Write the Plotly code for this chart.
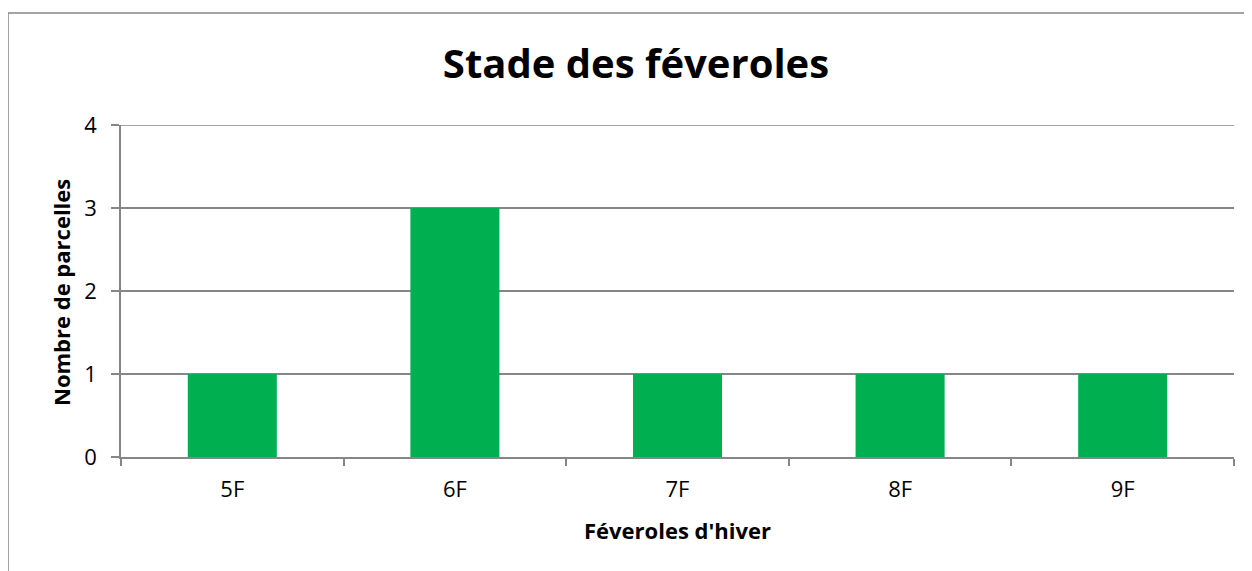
import plotly.graph_objects as go

categories = ["5F", "6F", "7F", "8F", "9F"]
values = [1, 3, 1, 1, 1]
y_ticks = [0, 1, 2, 3, 4]

# page is offset by the 8px body margin
OFF = 8
W, H = 1244, 563
L, R, T, B = 113, 18, 117, 114
pw = W - L - R
ph = H - T - B

def px(x):  # page x -> paper
    return (x - OFF - L) / pw

def py(y):  # page y -> paper
    return (H - B - (y - OFF)) / ph

FONT = "Open Sans"
GRID = "#868686"

fig = go.Figure(go.Bar(
    x=categories, y=values,
    marker=dict(color="#00B050", line=dict(width=0)),
    width=0.4,
))

fig.update_layout(
    width=W, height=H,
    margin=dict(l=L, r=R, t=T, b=B),
    paper_bgcolor="white", plot_bgcolor="white",
    showlegend=False,
    font=dict(family=FONT, color="#000000"),
    title=dict(text="<b>Stade des féveroles</b>", x=px(636), xref="paper", xanchor="center",
               y=1 - (64 - OFF) / H, yanchor="middle", font=dict(size=40, family=FONT, color="#000")),
    xaxis=dict(
        type="category", tickson="boundaries",
        ticks="outside", ticklen=7, tickcolor=GRID, tickwidth=1.5,
        showline=True, linecolor=GRID, linewidth=1.5,
        showgrid=False, tickfont=dict(size=22), ticklabelstandoff=12,
    ),
    yaxis=dict(
        range=[0, 4], tickvals=y_ticks, ticks="outside", ticklen=8,
        tickcolor=GRID, tickwidth=1.5,
        showline=True, linecolor=GRID, linewidth=1.5,
        showgrid=True, gridcolor=GRID, gridwidth=1.5,
        tickfont=dict(size=22), zeroline=False, ticklabelstandoff=10,
    ),
    annotations=[
        dict(text="<b>Féveroles d'hiver</b>", xref="paper", yref="paper",
             x=px(677), y=py(530), xanchor="center", yanchor="middle",
             showarrow=False, font=dict(size=22)),
        dict(text="<b>Nombre de parcelles</b>", xref="paper", yref="paper",
             x=px(61), y=py(293), xanchor="center", yanchor="middle", textangle=-90,
             showarrow=False, font=dict(size=22)),
    ],
    shapes=[
        dict(type="rect", xref="paper", yref="paper",
             x0=px(8), x1=px(1275), y0=py(600), y1=py(13),
             line=dict(color=GRID, width=1.5), fillcolor="rgba(0,0,0,0)", layer="below"),
        dict(type="line", xref="paper", yref="y", x0=0, x1=1, y0=4, y1=4,
             line=dict(color=GRID, width=1.5), layer="below"),
    ],
)

fig.write_html("out.html")
